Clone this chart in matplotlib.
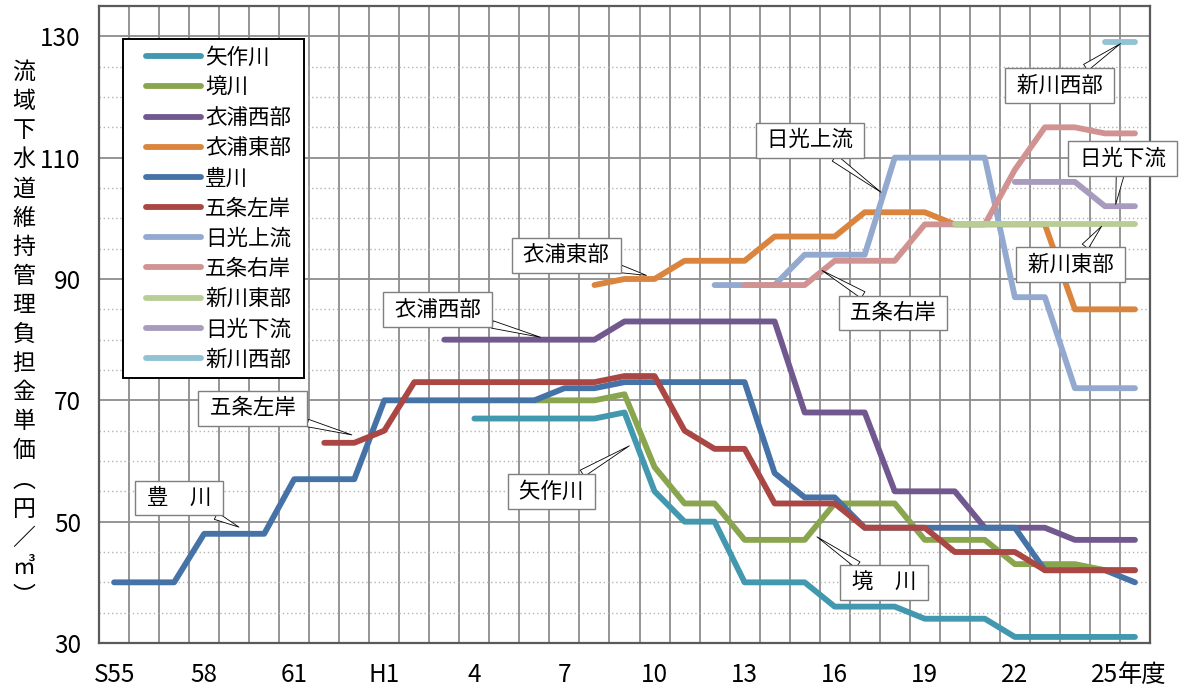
import numpy as np
import matplotlib
matplotlib.use("Agg")
import matplotlib.pyplot as plt
from matplotlib.patches import Rectangle

plt.rcParams['font.family'] = ['Noto Sans CJK JP', 'DejaVu Sans']

nan = np.nan

# 年度 (S55 = 1980 ... H26)
years = ['S55', 'S56', 'S57', 'S58', 'S59', 'S60', 'S61', 'S62', 'S63'] + \
        ['H%d' % i for i in range(1, 27)]
tick_pos = list(range(0, 34, 3))
tick_labels = ['S55', '58', '61', 'H1', '4', '7', '10', '13', '16', '19', '22', '25']

yahagi = [nan] * 12 + [67, 67, 67, 67, 67, 68, 55, 50, 50, 40, 40, 40,
                       36, 36, 36, 34, 34, 34, 31, 31, 31, 31, 31]
sakai = [nan] * 14 + [70, 70, 70, 71, 59, 53, 53, 47, 47, 47,
                      53, 53, 53, 47, 47, 47, 43, 43, 43, 42, 42]
kinuura_w = [nan] * 11 + [80, 80, 80, 80, 80, 80, 83, 83, 83, 83, 83, 83,
                          68, 68, 68, 55, 55, 55, 49, 49, 49, 47, 47, 47]
kinuura_e = [nan] * 16 + [89, 90, 90, 93, 93, 93, 97, 97, 97,
                          101, 101, 101, 99, 99, 99, 99, 85, 85, 85]
toyokawa = [40, 40, 40, 48, 48, 48, 57, 57, 57, 70, 70, 70, 70, 70, 70,
            72, 72, 73, 73, 73, 73, 73, 58, 54, 54, 49, 49, 49, 49, 49, 49,
            42, 42, 42, 40]
gojo_l = [nan] * 7 + [63, 63, 65, 73, 73, 73, 73, 73, 73, 73, 74, 74,
                      65, 62, 62, 53, 53, 53, 49, 49, 49, 45, 45, 45,
                      42, 42, 42, 42]
nikko_u = [nan] * 20 + [89, 89, 89, 94, 94, 94, 110, 110, 110, 110,
                        87, 87, 72, 72, 72]
gojo_r = [nan] * 21 + [89, 89, 89, 93, 93, 93, 99, 99, 99, 108,
                       115, 115, 114, 114]
shinkawa_e = [nan] * 28 + [99, 99, 99, 99, 99, 99, 99]
nikko_d = [nan] * 30 + [106, 106, 106, 102, 102]
shinkawa_w = [nan] * 33 + [129, 129]

series = [
    ('矢作川', yahagi, '#4198AF'),
    ('境川', sakai, '#89A54E'),
    ('衣浦西部', kinuura_w, '#71588F'),
    ('衣浦東部', kinuura_e, '#DB843D'),
    ('豊川', toyokawa, '#4572A7'),
    ('五条左岸', gojo_l, '#AA4643'),
    ('日光上流', nikko_u, '#93A9CF'),
    ('五条右岸', gojo_r, '#D19392'),
    ('新川東部', shinkawa_e, '#B9CD96'),
    ('日光下流', nikko_d, '#A99BBD'),
    ('新川西部', shinkawa_w, '#91C3D5'),
]

# callouts: text, point, box centre
callouts = [
    ('豊\u3000川', (4.16, 49.1), (2.16, 53.9)),
    ('五条左岸', (7.92, 64.3), (4.62, 68.7)),
    ('衣浦西部', (14.2, 80.4), (10.77, 84.9)),
    ('衣浦東部', (17.73, 90.6), (15.06, 93.9)),
    ('矢作川', (17.16, 62.5), (14.57, 55.0)),
    ('日光上流', (25.54, 104.3), (23.18, 112.9)),
    ('五条右岸', (23.58, 91.4), (25.94, 84.4)),
    ('境\u3000川', (23.41, 47.5), (25.64, 39.9)),
    ('新川東部', (32.89, 98.7), (31.86, 92.4)),
    ('日光下流', (33.36, 102.3), (33.59, 109.9)),
    ('新川西部', (33.52, 128.8), (31.49, 121.9)),
]

fig = plt.figure(figsize=(11.82, 6.88), dpi=100)
ax = fig.add_axes([0.0838, 0.0654, 0.8891, 0.9259])

x = np.arange(len(years))
for name, vals, col in series:
    ax.plot(x, vals, color=col, lw=4.2, label=name,
            solid_capstyle='round', solid_joinstyle='round', zorder=3)

ax.set_xlim(-0.5, len(years) - 0.5)
ax.set_ylim(30, 135)

ax.set_xticks(tick_pos)
ax.set_xticklabels(tick_labels)
ax.set_xticks(np.arange(-0.5, len(years), 1), minor=True)
ax.set_yticks(np.arange(30, 131, 20))
ax.set_yticks([v for v in range(35, 135, 5) if (v - 30) % 20], minor=True)

ax.grid(which='minor', axis='x', color='#8c8c8c', lw=1.3)
ax.grid(which='major', axis='y', color='#8c8c8c', lw=1.3)
ax.grid(which='minor', axis='y', color='#b4b4b4', lw=1.0, ls=(0, (1, 2)))
ax.set_axisbelow(True)

ax.tick_params(which='both', length=0)
ax.tick_params(axis='y', labelsize=17.5, pad=13)
ax.tick_params(axis='x', labelsize=17.5, pad=14)
for s in ax.spines.values():
    s.set_color('#5a5a5a')
    s.set_linewidth(1.6)

ax.annotate('年度', xy=(33, 0), xycoords=('data', 'axes fraction'),
            xytext=(9, -14), textcoords='offset points',
            ha='left', va='top', fontsize=17.5)

ylabel = '流域下水道維持管理負担金単価︵円／㎥︶'
fig.text(0.0203, 0.5138, '\n'.join(ylabel), ha='center', va='center',
         fontsize=16.5, linespacing=1.34)

for txt, tip, box in callouts:
    ax.annotate(' ' + txt + ' ', xy=tip, xytext=box, ha='center', va='center',
                fontsize=15.5, zorder=5, annotation_clip=False,
                bbox=dict(boxstyle='square,pad=0.3', fc='white',
                          ec='#7f7f7f', lw=1.0),
                arrowprops=dict(arrowstyle='wedge,tail_width=0.35',
                                fc='white', ec='black', lw=0.6,
                                shrinkA=0, shrinkB=0))

# legend frame drawn separately so the padding can differ per side
ax.add_patch(Rectangle((0.0228, 0.416), 0.1723, 0.532, transform=ax.transAxes,
                       fc='white', ec='black', lw=1.4, zorder=6,
                       clip_on=False))
leg = ax.legend(loc='upper left', bbox_to_anchor=(0.0447, 0.936),
                fontsize=15.5, handlelength=2.55, handletextpad=0.2,
                labelspacing=0.38, borderpad=0, borderaxespad=0,
                frameon=False)
leg.set_zorder(7)

fig.savefig('out.png', dpi=100)
